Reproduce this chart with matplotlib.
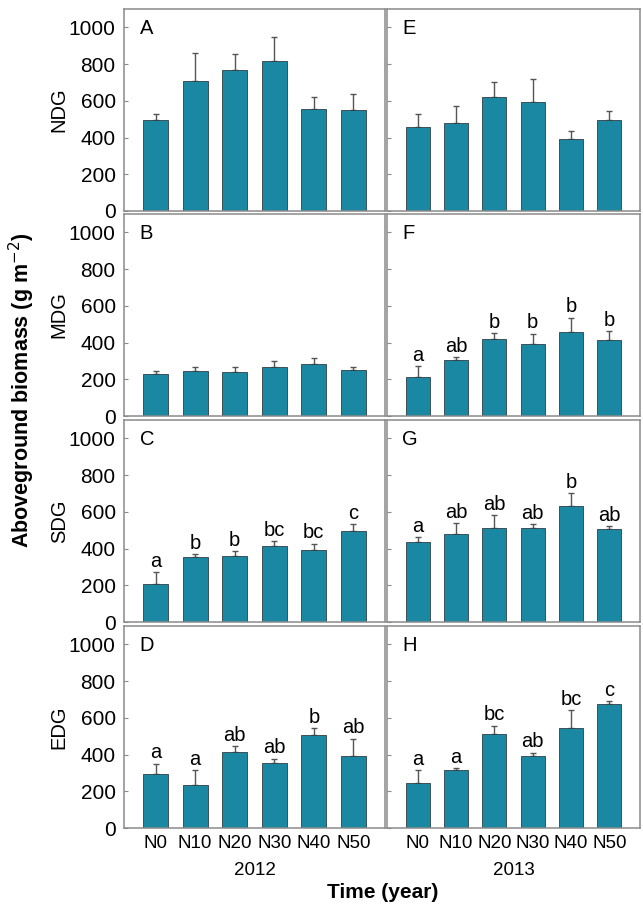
import numpy as np
import matplotlib.pyplot as plt

FONTSIZE = 14.5

plt.rcParams.update({
    "font.family": "sans-serif",
    "font.sans-serif": ["Liberation Sans", "DejaVu Sans"],
    "font.size": FONTSIZE,
    "xtick.labelsize": 13.5,
    "ytick.labelsize": 15,
})

BAR_COLOR = "#1a87a3"
SPINE_COLOR = "#8a8a8a"

# treatments and years
treatments = ["N0", "N10", "N20", "N30", "N40", "N50"]
years = ["2012", "2013"]
groups = ["NDG", "MDG", "SDG", "EDG"]
panel_letters = [["A", "E"], ["B", "F"], ["C", "G"], ["D", "H"]]

# mean aboveground biomass (g m-2), 2012
ndg_2012 = [497, 710, 766, 817, 553, 551]
mdg_2012 = [230, 247, 240, 267, 283, 252]
sdg_2012 = [209, 354, 361, 412, 390, 496]
edg_2012 = [295, 233, 415, 355, 505, 391]

# upper end of error bars, 2012
ndg_2012_top = [527, 861, 857, 946, 623, 638]
mdg_2012_top = [245, 265, 265, 300, 316, 265]
sdg_2012_top = [271, 371, 387, 440, 427, 532]
edg_2012_top = [351, 318, 445, 378, 542, 487]

# mean aboveground biomass (g m-2), 2013
ndg_2013 = [460, 480, 620, 592, 390, 495]
mdg_2013 = [211, 307, 420, 391, 458, 414]
sdg_2013 = [434, 481, 510, 510, 634, 509]
edg_2013 = [245, 315, 511, 391, 545, 673]

# upper end of error bars, 2013
ndg_2013_top = [527, 574, 703, 721, 437, 542]
mdg_2013_top = [271, 322, 453, 449, 536, 464]
sdg_2013_top = [461, 540, 583, 534, 700, 521]
edg_2013_top = [315, 325, 558, 411, 642, 693]

# significance letters
mdg_2013_sig = ["a", "ab", "b", "b", "b", "b"]
sdg_2012_sig = ["a", "b", "b", "bc", "bc", "c"]
sdg_2013_sig = ["a", "ab", "ab", "ab", "b", "ab"]
edg_2012_sig = ["a", "a", "ab", "ab", "b", "ab"]
edg_2013_sig = ["a", "a", "bc", "ab", "bc", "c"]

means = [[ndg_2012, ndg_2013], [mdg_2012, mdg_2013],
         [sdg_2012, sdg_2013], [edg_2012, edg_2013]]
tops = [[ndg_2012_top, ndg_2013_top], [mdg_2012_top, mdg_2013_top],
        [sdg_2012_top, sdg_2013_top], [edg_2012_top, edg_2013_top]]
sigs = [[None, None], [None, mdg_2013_sig],
        [sdg_2012_sig, sdg_2013_sig], [edg_2012_sig, edg_2013_sig]]

W, H = 643, 908
fig = plt.figure(figsize=(W / 100, H / 100), dpi=100)

col_x = [(124, 385), (387, 640)]
row_y = [(9, 211), (214, 416), (420, 622), (626, 828)]

x = np.arange(len(treatments))

for r in range(4):
    for c in range(2):
        x0, x1 = col_x[c]
        y0, y1 = row_y[r]
        ax = fig.add_axes([x0 / W, 1 - y1 / H, (x1 - x0) / W, (y1 - y0) / H])
        m = np.array(means[r][c])
        t = np.array(tops[r][c])
        ax.bar(x, m, width=0.63, color=BAR_COLOR, edgecolor="#2f3f44",
               linewidth=0.6, zorder=2)
        ax.errorbar(x, m, yerr=[np.zeros_like(m), t - m], fmt="none",
                    ecolor="#555555", elinewidth=1.0, capsize=2.5,
                    capthick=1.0, zorder=1)
        if sigs[r][c] is not None:
            for xi, ti, s in zip(x, t, sigs[r][c]):
                ax.text(xi, ti + 6, s, ha="center", va="bottom",
                        fontsize=FONTSIZE)
        ax.text(0.06, 0.95, panel_letters[r][c], transform=ax.transAxes,
                ha="left", va="top", fontsize=FONTSIZE)
        ax.set_xlim(-0.8, 5.8)
        ax.set_ylim(0, 1100)
        ax.set_yticks([0, 200, 400, 600, 800, 1000])
        ax.tick_params(axis="y", direction="in", length=3, color=SPINE_COLOR,
                       pad=6)
        ax.tick_params(axis="x", length=0, pad=5)
        for sp in ax.spines.values():
            sp.set_color(SPINE_COLOR)
            sp.set_linewidth(1.1)
        if c == 0:
            ax.set_ylabel(groups[r], fontsize=FONTSIZE, labelpad=0)
        else:
            ax.set_yticklabels([])
        if r == 3:
            ax.set_xticks(x)
            ax.set_xticklabels(treatments)
            ax.set_xlabel(years[c], fontsize=13.5, labelpad=7)
        else:
            ax.set_xticks([])

fig.text(22 / W, 1 - 390 / H, "Aboveground biomass (g m$^{-2}$)",
         rotation=90, ha="center", va="center", fontsize=15.5,
         fontweight="bold")
fig.text(383 / W, 1 - 893 / H, "Time (year)", ha="center", va="center",
         fontsize=15, fontweight="bold")

fig.savefig("out.png", dpi=100)
